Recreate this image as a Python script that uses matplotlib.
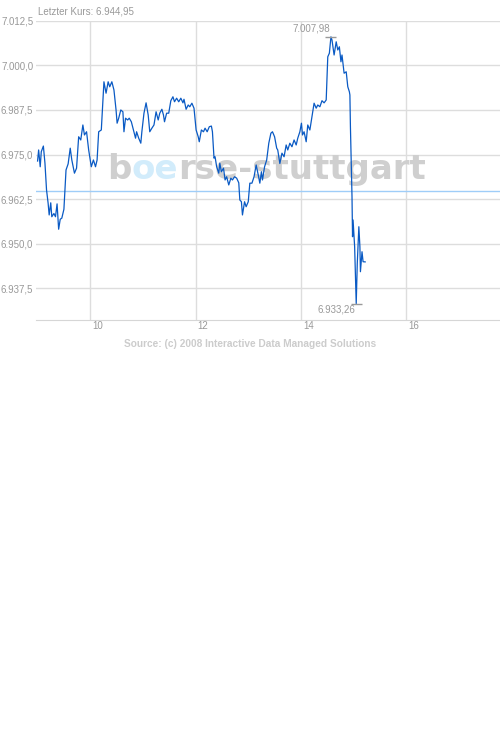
import matplotlib
matplotlib.use("Agg")
import matplotlib.pyplot as plt
import matplotlib.transforms as mtransforms

plt.rcParams['font.family'] = ['Liberation Sans', 'DejaVu Sans']

# intraday quotes (hour of day, index level)
hours = [
    9.00, 9.02, 9.05, 9.07, 9.11, 9.14, 9.17, 9.20, 9.22, 9.25, 9.27, 9.31, 9.34, 9.37, 9.40,
    9.43, 9.46, 9.50, 9.54, 9.58, 9.62, 9.65, 9.70, 9.74, 9.78, 9.82, 9.86, 9.89, 9.93, 9.97,
    10.02, 10.06, 10.10, 10.13, 10.16, 10.21, 10.26, 10.30, 10.34, 10.37, 10.41, 10.45, 10.49,
    10.51, 10.54, 10.58, 10.62, 10.64, 10.67, 10.71, 10.74, 10.78, 10.82, 10.86, 10.88, 10.92,
    10.96, 10.98, 11.02, 11.06, 11.10, 11.13, 11.17, 11.21, 11.25, 11.29, 11.32, 11.36, 11.39,
    11.41, 11.45, 11.49, 11.53, 11.57, 11.60, 11.64, 11.68, 11.72, 11.76, 11.78, 11.82, 11.86,
    11.89, 11.93, 11.97, 12.01, 12.05, 12.07, 12.11, 12.15, 12.18, 12.22, 12.26, 12.30, 12.32,
    12.35, 12.37, 12.40, 12.44, 12.46, 12.49, 12.53, 12.56, 12.59, 12.63, 12.67, 12.70, 12.74,
    12.78, 12.82, 12.84, 12.87, 12.89, 12.93, 12.96, 13.00, 13.03, 13.07, 13.11, 13.15, 13.19,
    13.22, 13.25, 13.27, 13.31, 13.35, 13.39, 13.43, 13.46, 13.50, 13.54, 13.56, 13.60, 13.64,
    13.68, 13.72, 13.75, 13.79, 13.83, 13.87, 13.91, 13.94, 13.98, 14.01, 14.03, 14.06, 14.10,
    14.13, 14.17, 14.21, 14.25, 14.29, 14.32, 14.36, 14.40, 14.44, 14.48, 14.51, 14.54, 14.57,
    14.59, 14.63, 14.67, 14.70, 14.73, 14.76, 14.78, 14.82, 14.86, 14.89, 14.92, 14.93, 14.94,
    14.97, 14.98, 14.99, 15.02, 15.05, 15.07, 15.10, 15.12, 15.13, 15.16, 15.18, 15.22,
]
prices = [
    6973.2, 6976.3, 6971.6, 6975.8, 6977.4, 6972.6, 6965.1, 6961.4, 6958.1, 6961.5, 6957.6,
    6958.5, 6957.6, 6961.2, 6954.1, 6956.9, 6957.2, 6959.7, 6970.7, 6972.4, 6976.8, 6973.5,
    6969.8, 6971.2, 6980.0, 6979.1, 6983.3, 6980.5, 6981.4, 6976.3, 6971.6, 6973.5, 6971.6,
    6973.5, 6981.4, 6981.9, 6995.4, 6992.2, 6995.4, 6994.0, 6995.4, 6993.1, 6987.5, 6983.8,
    6985.2, 6987.5, 6987.0, 6981.4, 6985.2, 6984.7, 6985.2, 6984.2, 6981.9, 6979.6, 6981.4,
    6979.6, 6978.2, 6981.4, 6986.6, 6989.5, 6986.1, 6981.4, 6982.4, 6983.3, 6987.0, 6984.7,
    6986.6, 6987.7, 6986.1, 6984.2, 6986.6, 6986.6, 6990.1, 6991.2, 6989.8, 6990.8, 6989.8,
    6990.8, 6989.5, 6990.5, 6987.7, 6988.9, 6988.4, 6989.4, 6988.0, 6981.9, 6980.0, 6978.6,
    6981.9, 6981.4, 6982.4, 6981.4, 6982.8, 6983.0, 6981.4, 6974.0, 6974.4, 6971.6, 6969.8,
    6972.6, 6970.2, 6971.2, 6967.9, 6968.8, 6966.5, 6968.4, 6967.9, 6968.8, 6968.4, 6967.1,
    6962.3, 6961.8, 6958.1, 6961.8, 6960.4, 6961.8, 6967.0, 6967.0, 6968.8, 6972.1, 6969.3,
    6967.0, 6970.2, 6967.9, 6971.6, 6973.5, 6978.2, 6981.0, 6981.4, 6980.0, 6976.8, 6976.3,
    6972.5, 6975.4, 6974.4, 6977.7, 6976.3, 6978.2, 6977.2, 6979.1, 6977.7, 6979.6, 6981.4,
    6983.8, 6980.5, 6981.4, 6978.6, 6983.3, 6981.9, 6985.6, 6989.4, 6988.0, 6988.9, 6988.4,
    6990.1, 6989.5, 6990.3, 7002.4, 7003.4, 7007.98, 7007.1, 7002.9, 7006.6, 7004.3, 7005.2,
    7001.0, 7002.9, 6997.8, 6998.2, 6994.0, 6992.6, 6991.7, 6982.8, 6963.2, 6952.0, 6956.7,
    6949.2, 6933.26, 6944.5, 6954.8, 6949.2, 6942.2, 6947.8, 6945.0, 6944.95,
]
prev_close = 6964.9
yticks = [6937.5, 6950.0, 6962.5, 6975.0, 6987.5, 7000.0, 7012.5]
xticks = [10, 12, 14, 16]


def de_fmt(v, nd):
    s = f"{v:,.{nd}f}"
    return s.replace(",", "X").replace(".", ",").replace("X", ".")


fig = plt.figure(figsize=(5, 7.35), dpi=100)
ax = fig.add_axes([0.072, 0.5646, 0.928, 0.4072])

grey = '#999999'
fs = 7.0
ax.set_xlim(8.97, 17.78)
ax.set_ylim(6928.67, 7012.5)
ax.set_yticks(yticks)
ax.set_yticklabels([de_fmt(v, 1) for v in yticks])
ax.set_xticks(xticks)
ax.set_xticklabels([str(t) for t in xticks], ha='left')
ax.tick_params(axis='both', length=0, labelsize=fs, colors=grey)
ax.tick_params(axis='y', pad=2)
ax.tick_params(axis='x', pad=1)
ax.grid(True, color='#dddddd', lw=1)
ax.set_axisbelow(True)
for side in ['left', 'right', 'top']:
    ax.spines[side].set_visible(False)
ax.spines['bottom'].set_color('#d6d6d6')

# x labels sit just right of their grid line
offset = mtransforms.ScaledTranslation(2 / 100, 0, fig.dpi_scale_trans)
for lbl in ax.get_xticklabels():
    lbl.set_transform(lbl.get_transform() + offset)

# watermark
wm_size = 24.5
t1 = fig.text(107 / 500, 1 - 186 / 735, 'b', fontsize=wm_size, fontweight='bold',
              family='DejaVu Sans', color='#cfcfcf', va='bottom', zorder=1)
t2 = ax.annotate('oe', xy=(1, 0), xycoords=t1, fontsize=wm_size, fontweight='bold',
                 family='DejaVu Sans', color='#d2ecfb', va='bottom', ha='left',
                 annotation_clip=False, zorder=1)
t3 = ax.annotate('rse-stuttgart', xy=(1, 0), xycoords=t2, fontsize=wm_size,
                 fontweight='bold', family='DejaVu Sans', color='#cfcfcf',
                 va='bottom', ha='left', annotation_clip=False, zorder=1)

ax.axhline(prev_close, color='#9fcdf8', lw=1, zorder=2)
ax.plot(hours, prices, color='#0a5ac4', lw=0.9, zorder=3)

# high / low markers
i_max = prices.index(max(prices))
i_min = prices.index(min(prices))
hw = 0.105
ax.hlines(prices[i_max], hours[i_max] - hw, hours[i_max] + hw, color=grey, lw=1, zorder=4)
ax.hlines(prices[i_min], hours[i_min] - hw, hours[i_min] + hw, color=grey, lw=1, zorder=4)
ax.annotate(de_fmt(prices[i_max], 2), (hours[i_max], prices[i_max]),
            textcoords='offset pixels', xytext=(-1, 3), ha='right', va='bottom',
            fontsize=fs, color=grey)
ax.annotate(de_fmt(prices[i_min], 2), (hours[i_min], prices[i_min]),
            textcoords='offset pixels', xytext=(-1, -1), ha='right', va='top',
            fontsize=fs, color=grey)

fig.text(38 / 500, 1 - 12 / 735, 'Letzter Kurs: ' + de_fmt(prices[-1], 2),
         fontsize=fs, color=grey, va='center', ha='left')
fig.text(250 / 500, 1 - 344 / 735,
         'Source: (c) 2008 Interactive Data Managed Solutions',
         fontsize=7.3, fontweight='bold', color='#cccccc', va='center', ha='center')

fig.savefig('out.png', dpi=100)
